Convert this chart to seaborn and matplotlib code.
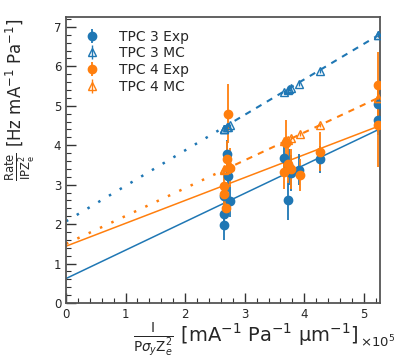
import numpy as np
import pandas as pd
import matplotlib
matplotlib.use("Agg")
import matplotlib.pyplot as plt
import seaborn as sns
from matplotlib.ticker import MultipleLocator

# ---- data (x in units of 1e5 mA^-1 Pa^-1 um^-1) ----
tpc3_x = [2.66, 2.66, 2.75, 2.65, 2.72, 2.70, 3.66, 3.75, 3.77, 3.72, 3.91, 4.27, 5.23, 5.23]
tpc3_exp = [1.97, 2.26, 2.58, 2.72, 3.21, 3.77, 3.67, 3.45, 3.30, 2.60, 3.38, 3.64, 4.65, 5.04]
tpc3_exp_err = [0.38, 0.30, 0.40, 0.30, 0.40, 0.35, 0.40, 0.45, 0.45, 0.50, 0.40, 0.35, 0.40, 0.40]
tpc3_mc = [4.40, 4.42, 4.50, 4.40, 4.47, 4.45, 5.35, 5.43, 5.45, 5.40, 5.55, 5.88, 6.80, 6.80]

tpc4_x = [2.68, 2.65, 2.66, 2.75, 2.70, 2.72, 3.70, 3.72, 3.66, 3.78, 3.92, 4.27, 5.23, 5.23]
tpc4_exp = [2.42, 2.77, 2.96, 3.43, 3.66, 4.80, 4.05, 3.53, 3.33, 3.40, 3.25, 3.84, 4.50, 5.52]
tpc4_exp_err = [0.30, 0.30, 0.40, 0.50, 0.45, 0.75, 0.60, 0.50, 0.45, 0.50, 0.40, 0.50, 1.05, 0.85]
tpc4_mc = [3.40, 3.38, 3.40, 3.48, 3.44, 3.46, 4.12, 4.14, 4.10, 4.18, 4.28, 4.52, 5.20, 5.20]

mc_err = 0.05

# linear fit parameters (intercept, slope)
fit_tpc3_exp = (0.62, 0.72)
fit_tpc3_mc = (2.07, 0.90)
fit_tpc4_exp = (1.44, 0.58)
fit_tpc4_mc = (1.50, 0.706)

blue = "#1f77b4"
orange = "#ff7f0e"

sns.set_style("ticks")
plt.rcParams["font.family"] = ["DejaVu Sans"]

fig = plt.figure(figsize=(4.15, 3.63), dpi=100)
ax = fig.add_axes([66 / 415, 1 - 303 / 363, (380 - 66) / 415, (303 - 17) / 363])

def fit_line(params, x0, x1):
    xs = np.linspace(x0, x1, 50)
    return pd.DataFrame({"x": xs, "y": params[0] + params[1] * xs})

xmax_fit = max(tpc3_x)
# Exp fits: solid over full range
for params, col in [(fit_tpc3_exp, blue), (fit_tpc4_exp, orange)]:
    sns.lineplot(data=fit_line(params, 0, xmax_fit), x="x", y="y", ax=ax,
                 color=col, lw=1.1, ls="-", legend=False)
# MC fits: dotted extrapolation, dashed over data range
for params, xs, col in [(fit_tpc3_mc, tpc3_x, blue), (fit_tpc4_mc, tpc4_x, orange)]:
    sns.lineplot(data=fit_line(params, 0, min(xs)), x="x", y="y", ax=ax,
                 color=col, lw=1.8, ls=(0, (1, 4)), legend=False)
    sns.lineplot(data=fit_line(params, min(xs), max(xs)), x="x", y="y", ax=ax,
                 color=col, lw=1.5, ls=(0, (3, 3)), legend=False)

ax.errorbar(tpc3_x, tpc3_exp, yerr=tpc3_exp_err, fmt="o", color=blue, ms=6,
            elinewidth=1.3, label="TPC 3 Exp", zorder=3)
ax.errorbar(tpc3_x, tpc3_mc, yerr=mc_err, fmt="^", color=blue, mfc="none", ms=5.5,
            mew=1.0, elinewidth=1.0, label="TPC 3 MC", zorder=3)
ax.errorbar(tpc4_x, tpc4_exp, yerr=tpc4_exp_err, fmt="o", color=orange, ms=6,
            elinewidth=1.3, label="TPC 4 Exp", zorder=3)
ax.errorbar(tpc4_x, tpc4_mc, yerr=mc_err, fmt="^", color=orange, mfc="none", ms=5.5,
            mew=1.0, elinewidth=1.0, label="TPC 4 MC", zorder=3)

ax.set_xlim(0, 5.27)
ax.set_ylim(0, 7.25)
ax.xaxis.set_major_locator(MultipleLocator(1))
ax.xaxis.set_minor_locator(MultipleLocator(0.2))
ax.yaxis.set_major_locator(MultipleLocator(1))
ax.yaxis.set_minor_locator(MultipleLocator(0.2))
ax.tick_params(which="both", direction="in", labelsize=8.5, color="#333333")
ax.tick_params(which="major", length=7, width=1.0)
ax.tick_params(which="minor", length=3.5, width=0.8)
for s in ax.spines.values():
    s.set_linewidth(1.3)
    s.set_color("#555555")

ax.set_xlabel(r"$\frac{\mathrm{I}}{\mathrm{P}\sigma_y \mathrm{Z}_e^2}$ [mA$^{-1}$ Pa$^{-1}$ µm$^{-1}$]",
              fontsize=14, loc="right")
ax.xaxis.set_label_coords((358 - 66) / 314, (303 - 340) / 286)
ax.xaxis.label.set_va("center")
ax.set_ylabel(r"$\frac{\mathrm{Rate}}{\mathrm{IPZ_e^2}}$ [Hz mA$^{-1}$ Pa$^{-1}$]",
              fontsize=12, loc="top")
ax.yaxis.set_label_coords((37 - 66) / 314, (303 - 18) / 286)
fig.text(360 / 415, 1 - 334 / 363, r"$\times10^5$", fontsize=9.5, ha="left", va="top")

ax.legend(loc="upper left", frameon=False, fontsize=10, handletextpad=0.9,
          borderaxespad=0.5, labelspacing=0.2)

fig.savefig("out.png", dpi=100)
